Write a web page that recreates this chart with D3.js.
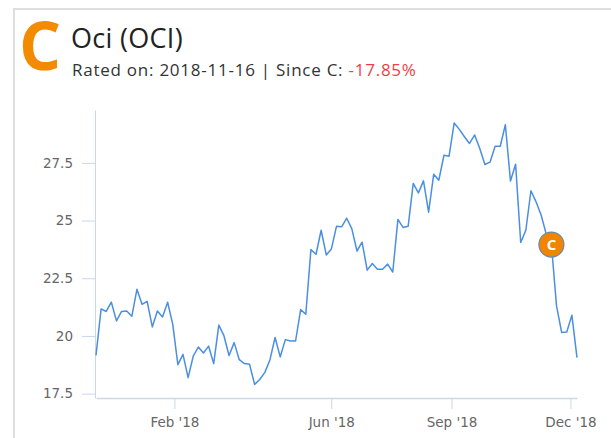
<!DOCTYPE html>
<html>
<head>
<meta charset="utf-8">
<script src="https://cdn.jsdelivr.net/npm/d3@7"></script>
<style>
  body { margin: 0; background: #fff; }
  svg { display: block; }
</style>
</head>
<body>
<div id="chart"></div>
<script>
// price series (roughly every 4 days)
const startDate = new Date(2017, 11, 3);
const endDate = new Date(2018, 11, 6);
const prices = [
  19.16, 21.17, 21.06, 21.46, 20.65, 21.06, 21.08, 20.85, 22.02, 21.37,
  21.5, 20.39, 21.08, 20.82, 21.46, 20.5, 18.76, 19.2, 18.19, 19.12,
  19.52, 19.26, 19.56, 18.8, 20.47, 20.01, 19.15, 19.71, 18.97, 18.8,
  18.77, 17.9, 18.11, 18.42, 18.97, 19.93, 19.09, 19.84, 19.78, 19.78,
  21.14, 20.94, 23.74, 23.54, 24.58, 23.51, 23.77, 24.75, 24.73, 25.1,
  24.64, 23.68, 24.06, 22.85, 23.14, 22.89, 22.89, 23.11, 22.77, 25.05,
  24.7, 24.75, 26.61, 26.2, 26.72, 25.36, 27.01, 26.75, 27.83, 27.79,
  29.23, 28.95, 28.63, 28.34, 28.71, 28.12, 27.43, 27.53, 28.22, 28.22,
  29.15, 26.71, 27.44, 24.05, 24.58, 26.29, 25.81, 25.23, 24.4, 23.96,
  21.3, 20.15, 20.17, 20.9, 19.06
];
// rating marker
const ratingIndex = 89;
const ratingLabel = "C";

const yTicks = [17.5, 20, 22.5, 25, 27.5];
const xTickDates = [new Date(2018, 1, 1), new Date(2018, 5, 1), new Date(2018, 8, 1), new Date(2018, 11, 1)];
const xTickLabels = ["Feb '18", "Jun '18", "Sep '18", "Dec '18"];

const width = 611, height = 438;
const plot = { left: 95, right: 578, top: 110, bottom: 398 };

const svg = d3.select("#chart").append("svg")
  .attr("width", width).attr("height", height);

// card border
svg.append("rect")
  .attr("x", 14).attr("y", 9).attr("width", 800).attr("height", 600)
  .attr("fill", "none").attr("stroke", "#dedede").attr("stroke-width", 2);

// header
svg.append("text")
  .attr("x", 19).attr("y", 70)
  .attr("font-family", "Open Sans").attr("font-weight", 700).attr("font-size", 66)
  .attr("fill", "#f38b00").text(ratingLabel);

svg.append("text")
  .attr("x", 71).attr("y", 48)
  .attr("font-family", "Open Sans").attr("font-size", 27).attr("letter-spacing", 0.3)
  .attr("fill", "#222").text("Oci (OCI)");

const sub = svg.append("text")
  .attr("x", 72).attr("y", 76)
  .attr("font-family", "Open Sans").attr("font-size", 17).attr("letter-spacing", 0.75)
  .attr("fill", "#333");
sub.append("tspan").text("Rated on: 2018-11-16 | Since C: ");
sub.append("tspan").attr("fill", "#ef3e46").text("-17.85%");

// scales
const t0 = startDate.getTime(), t1 = endDate.getTime();
const data = prices.map((v, i) => ({ date: new Date(t0 + (t1 - t0) * i / (prices.length - 1)), value: v }));

const x = d3.scaleTime().domain([startDate, endDate]).range([plot.left + 1, plot.right - 1]);
const y = d3.scaleLinear().domain([17.31, 29.79]).range([plot.bottom, plot.top]);

const axisColor = "#ccd6eb";

const yAxis = svg.append("g")
  .attr("transform", "translate(" + plot.left + ",0)")
  .call(d3.axisLeft(y).tickValues(yTicks).tickSize(13).tickSizeOuter(0).tickPadding(9)
    .tickFormat(d => d3.format("~g")(d)));
yAxis.select(".domain").attr("stroke", axisColor);
yAxis.selectAll(".tick line").attr("stroke", axisColor);
yAxis.selectAll("text").attr("font-family", "DejaVu Sans").attr("font-size", 13.5).attr("fill", "#666");

const xAxis = svg.append("g")
  .attr("transform", "translate(0," + plot.bottom + ")")
  .call(d3.axisBottom(x).tickValues(xTickDates).tickSize(11).tickSizeOuter(0).tickPadding(8)
    .tickFormat((d, i) => xTickLabels[i]));
xAxis.select(".domain").attr("stroke", axisColor).attr("stroke-width", 1.5);
xAxis.selectAll(".tick line").attr("stroke", axisColor);
xAxis.selectAll("text").attr("font-family", "DejaVu Sans").attr("font-size", 13.5).attr("fill", "#666");

// price line
const line = d3.line().x(d => x(d.date)).y(d => y(d.value));
svg.append("path")
  .datum(data)
  .attr("fill", "none").attr("stroke", "#4a8fe0").attr("stroke-width", 1.5)
  .attr("stroke-linejoin", "round")
  .attr("d", line);

// rating marker
const r = data[ratingIndex];
const mg = svg.append("g").attr("transform", "translate(" + x(r.date) + "," + y(r.value) + ")");
mg.append("circle").attr("r", 12.5).attr("fill", "#f18500").attr("stroke", "#6f88a8").attr("stroke-width", 1.2);
mg.append("text").attr("y", 5).attr("text-anchor", "middle")
  .attr("font-family", "Open Sans").attr("font-weight", 700).attr("font-size", 15)
  .attr("fill", "#fff").text(ratingLabel);
</script>
</body>
</html>
